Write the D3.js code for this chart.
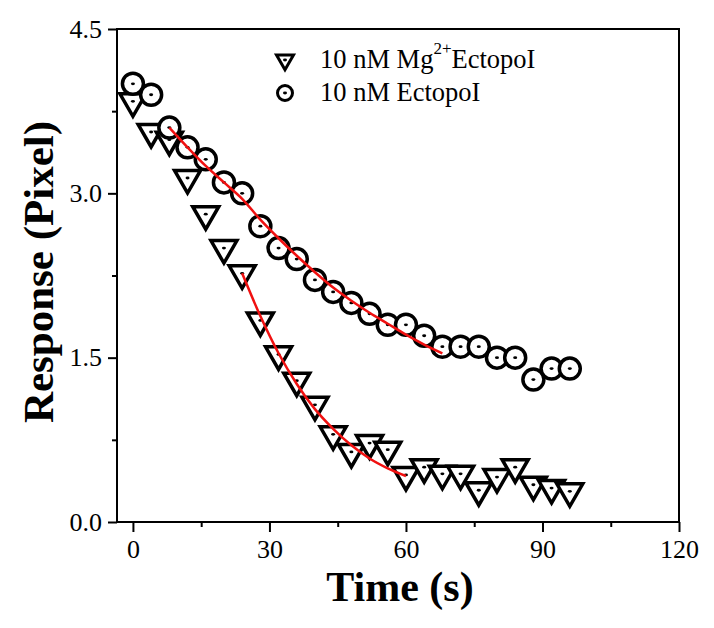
<!DOCTYPE html>
<html><head><meta charset="utf-8">
<script src="https://cdn.jsdelivr.net/npm/d3@7/dist/d3.min.js"></script>
<style>html,body{margin:0;padding:0;background:#fff;}svg{display:block;}</style>
</head><body>
<svg id="c" width="714" height="628"></svg>
<script>
// ---- data ----
const times = [0,4,8,12,16,20,24,28,32,36,40,44,48,52,56,60,64,68,72,76,80,84,88,92,96];
const mgEctopo = [3.84,3.56,3.49,3.14,2.81,2.50,2.27,1.84,1.53,1.29,1.07,0.80,0.64,0.72,0.66,0.43,0.50,0.44,0.44,0.29,0.41,0.50,0.34,0.31,0.28];
const ectopo = [4.00,3.90,3.60,3.42,3.31,3.10,3.00,2.70,2.50,2.40,2.21,2.10,2.00,1.90,1.80,1.80,1.70,1.60,1.60,1.60,1.50,1.50,1.30,1.40,1.40];
const fitEctopoT = [8,12,16,20,24,28,32,36,40,44,48,52,56,60,64,68];
const fitEctopoV = [3.60,3.42,3.25,3.10,2.95,2.76,2.59,2.43,2.28,2.14,2.02,1.91,1.81,1.71,1.62,1.54];
const fitMgT = [24,28,32,36,40,44,48,52,56,60];
const fitMgV = [2.27,1.88,1.54,1.26,1.03,0.85,0.70,0.58,0.49,0.42];
const xMajor = [0,30,60,90,120];
const xMinor = [15,45,75,105];
const yMajor = [0,1.5,3.0,4.5];
const yMinor = [0.75,2.25,3.75];
const legendLabels = ["10 nM Mg", "2+", "EctopoI", "10 nM EctopoI"];

// ---- layout ----
const svg = d3.select("#c");
const L = 117, R = 679, T = 29, B = 522;
const x = d3.scaleLinear().domain([-3.5,120]).range([L,R]);
const y = d3.scaleLinear().domain([0,4.5]).range([B,T]);
const font = "'Liberation Serif','Times New Roman',serif";

// axes
const xAxis = d3.axisBottom(x).tickValues(xMajor).tickSize(10).tickPadding(8).tickFormat(d3.format("d"));
const xAxisMinor = d3.axisBottom(x).tickValues(xMinor).tickSize(5).tickFormat("");
const yAxis = d3.axisLeft(y).tickValues(yMajor).tickSize(9).tickPadding(6).tickFormat(d3.format(".1f"));
const yAxisMinor = d3.axisLeft(y).tickValues(yMinor).tickSize(5).tickFormat("");

function style(g){
  g.select(".domain").remove();
  g.selectAll("line").attr("stroke","#000").attr("stroke-width",2);
  g.selectAll("text").attr("font-family",font).attr("font-size",26).attr("fill","#000");
}
svg.append("g").attr("transform",`translate(0,${B})`).call(xAxis).call(style);
svg.append("g").attr("transform",`translate(0,${B})`).call(xAxisMinor).call(style);
svg.append("g").attr("transform",`translate(${L},0)`).call(yAxis).call(style);
svg.append("g").attr("transform",`translate(${L},0)`).call(yAxisMinor).call(style);

// frame
svg.append("rect").attr("x",L).attr("y",T).attr("width",R-L).attr("height",B-T)
  .attr("fill","none").attr("stroke","#000").attr("stroke-width",2);

// markers
const triPath = (s) => {
  const h = s*Math.sqrt(3)/2;
  return `M${-s/2},${-h/3}L${s/2},${-h/3}L0,${2*h/3}Z`;
};
function drawTri(g, cx, cy, s, sw){
  const gg = g.append("g").attr("transform",`translate(${cx},${cy})`);
  gg.append("path").attr("d",triPath(s)).attr("fill","#fff").attr("stroke","#000")
    .attr("stroke-width",sw).attr("stroke-linejoin","miter");
  gg.append("ellipse").attr("rx",2).attr("ry",1.4).attr("fill","#000");
}
function drawCirc(g, cx, cy, r, sw){
  const gg = g.append("g").attr("transform",`translate(${cx},${cy})`);
  gg.append("circle").attr("r",r).attr("fill","#fff").attr("stroke","#000").attr("stroke-width",sw);
  gg.append("ellipse").attr("rx",2).attr("ry",1.4).attr("fill","#000");
}
const gTri = svg.append("g");
times.forEach((t,i)=> drawTri(gTri, x(t), y(mgEctopo[i]), 26, 3.5));
const gCirc = svg.append("g");
times.forEach((t,i)=> drawCirc(gCirc, x(t), y(ectopo[i]), 10.5, 3.5));

// fit lines
const line = d3.line().curve(d3.curveMonotoneX).x(d=>x(d[0])).y(d=>y(d[1]));
svg.append("path").attr("d", line(fitEctopoT.map((t,i)=>[t,fitEctopoV[i]])))
  .attr("fill","none").attr("stroke","#f01010").attr("stroke-width",2.5);
svg.append("path").attr("d", line(fitMgT.map((t,i)=>[t,fitMgV[i]])))
  .attr("fill","none").attr("stroke","#f01010").attr("stroke-width",2.5);

// legend
const gl = svg.append("g");
drawTri(gl, 285, 60, 17, 3);
drawCirc(gl, 285, 93, 7.5, 3);
const t1 = gl.append("text").attr("x",320).attr("y",68).attr("font-family",font).attr("font-size",26.5);
t1.append("tspan").text(legendLabels[0]);
t1.append("tspan").attr("dy",-14).attr("font-size",17).text(legendLabels[1]);
t1.append("tspan").attr("dy",14).text(legendLabels[2]);
gl.append("text").attr("x",320).attr("y",101).attr("font-family",font).attr("font-size",26.5).text(legendLabels[3]);

// axis titles
svg.append("text").attr("x",(x(0)+x(120))/2-6).attr("y",601).attr("text-anchor","middle")
  .attr("font-family",font).attr("font-weight","bold").attr("font-size",42).text("Time (s)");
svg.append("text").attr("transform","translate(53,272) rotate(-90)").attr("text-anchor","middle")
  .attr("font-family",font).attr("font-weight","bold").attr("font-size",43).text("Response (Pixel)");
</script>
</body></html>
